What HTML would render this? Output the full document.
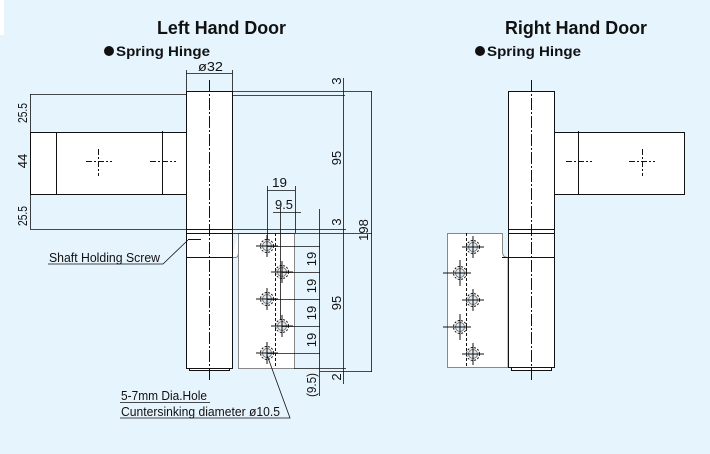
<!DOCTYPE html>
<html><head><meta charset="utf-8"><style>
html,body{margin:0;padding:0;background:#e6f4fd;}
svg{display:block;}
text{font-family:"Liberation Sans",Arial,sans-serif;fill:#111;}
</style></head><body>
<svg width="710" height="454" viewBox="0 0 710 454" xmlns="http://www.w3.org/2000/svg">
<rect width="710" height="454" fill="#e6f4fd"/>
<rect x="0" y="0" width="4" height="35" fill="#fff"/>
<g font-weight="bold">
<text x="157" y="34" font-size="18" textLength="129" lengthAdjust="spacingAndGlyphs">Left Hand Door</text>
<text x="505" y="34" font-size="18" textLength="142" lengthAdjust="spacingAndGlyphs">Right Hand Door</text>
<circle cx="109" cy="51" r="5" fill="#111"/>
<text x="116" y="56" font-size="14" textLength="94" lengthAdjust="spacingAndGlyphs">Spring Hinge</text>
<circle cx="480" cy="51" r="5" fill="#111"/>
<text x="487" y="56" font-size="14" textLength="94" lengthAdjust="spacingAndGlyphs">Spring Hinge</text>
</g>
<!-- ====== LEFT ====== -->
<g stroke="#111" stroke-width="1" fill="none">
<rect x="30.5" y="132.5" width="156" height="62" fill="#fff"/>
<line x1="56.5" y1="132" x2="56.5" y2="194"/>
<line x1="162.5" y1="131" x2="162.5" y2="194"/>
<path d="M238.5 368.5 V233.5 H294.5 V368.5 Z" fill="#fff" stroke="#888"/>
<path d="M232 257.5 H236 Q238.5 257 238.5 252 V233.5" fill="#fff" stroke="#888"/>
<rect x="186.5" y="91.5" width="46" height="277" fill="#fff"/>
<rect x="189.5" y="368.5" width="40" height="2" fill="#fff"/>
<line x1="186" y1="229.5" x2="232" y2="229.5"/>
<line x1="186" y1="233.5" x2="232" y2="233.5"/>
<line x1="186" y1="257.5" x2="232" y2="257.5"/>
<line x1="188" y1="239.5" x2="201" y2="239.5"/>
<line x1="209.5" y1="80" x2="209.5" y2="382" stroke-dasharray="12,2,2,2"/>
<g stroke-dasharray="6,2,2,2">
<line x1="86" y1="161.5" x2="112" y2="161.5"/><line x1="98.5" y1="149" x2="98.5" y2="176"/>
<line x1="150" y1="161.5" x2="176" y2="161.5"/>
</g>
<line x1="275.5" y1="233" x2="275.5" y2="368" stroke-dasharray="3,2"/>
</g>
<g stroke="#111" fill="none">
<g transform="translate(267,246)"><circle r="6.5" stroke-dasharray="2,1.5" fill="#fff"/><circle r="4.5" stroke="#777" fill="#dfeaf2"/><line x1="-11" y1="0" x2="11" y2="0"/><line x1="0" y1="-11" x2="0" y2="11"/></g>
<g transform="translate(282,272)"><circle r="6.5" stroke-dasharray="2,1.5" fill="#fff"/><circle r="4.5" stroke="#777" fill="#dfeaf2"/><line x1="-11" y1="0" x2="11" y2="0"/><line x1="0" y1="-11" x2="0" y2="11"/></g>
<g transform="translate(267,299)"><circle r="6.5" stroke-dasharray="2,1.5" fill="#fff"/><circle r="4.5" stroke="#777" fill="#dfeaf2"/><line x1="-11" y1="0" x2="11" y2="0"/><line x1="0" y1="-11" x2="0" y2="11"/></g>
<g transform="translate(282,326)"><circle r="6.5" stroke-dasharray="2,1.5" fill="#fff"/><circle r="4.5" stroke="#777" fill="#dfeaf2"/><line x1="-11" y1="0" x2="11" y2="0"/><line x1="0" y1="-11" x2="0" y2="11"/></g>
<g transform="translate(267,353)"><circle r="6.5" stroke-dasharray="2,1.5" fill="#fff"/><circle r="4.5" stroke="#777" fill="#dfeaf2"/><line x1="-11" y1="0" x2="11" y2="0"/><line x1="0" y1="-11" x2="0" y2="11"/></g>
</g>
<g stroke="#111" stroke-width="0.8" fill="none">
<line x1="30" y1="94.5" x2="186" y2="94.5"/>
<line x1="30" y1="229.5" x2="186" y2="229.5"/>
<line x1="30.5" y1="94" x2="30.5" y2="229"/>
<line x1="186.5" y1="73.5" x2="232.5" y2="73.5"/>
<line x1="186.5" y1="70" x2="186.5" y2="91"/><line x1="232.5" y1="70" x2="232.5" y2="91"/>
<line x1="232" y1="91.5" x2="372" y2="91.5"/>
<line x1="232" y1="95.5" x2="345" y2="95.5"/>
<line x1="232" y1="229.5" x2="346" y2="229.5"/>
<line x1="232" y1="233.5" x2="372" y2="233.5"/>
<line x1="294" y1="368.5" x2="346" y2="368.5"/>
<line x1="343.5" y1="78" x2="343.5" y2="384"/>
<line x1="371.5" y1="91" x2="371.5" y2="372"/>
<line x1="320" y1="371.5" x2="372" y2="371.5"/>
<line x1="267.5" y1="186" x2="267.5" y2="240"/>
<line x1="295.5" y1="186" x2="295.5" y2="233"/>
<line x1="267" y1="190.5" x2="295" y2="190.5"/>
<line x1="273" y1="212.5" x2="301" y2="212.5"/>
<line x1="280.5" y1="208" x2="280.5" y2="320"/>
<line x1="319.5" y1="209" x2="319.5" y2="396"/>
<line x1="267" y1="246.5" x2="320" y2="246.5"/>
<line x1="282" y1="272.5" x2="320" y2="272.5"/>
<line x1="267" y1="299.5" x2="320" y2="299.5"/>
<line x1="282" y1="326.5" x2="320" y2="326.5"/>
<line x1="267" y1="353.5" x2="320" y2="353.5"/>
<polyline points="188,240 163,264 48,264"/>
<polyline points="267,355 290,418 120,418"/>
<line x1="120" y1="402.5" x2="210" y2="402.5"/>
</g>
<g font-size="13">
<text x="198" y="71" textLength="25" lengthAdjust="spacingAndGlyphs">ø32</text>
<text x="49" y="262" textLength="111" lengthAdjust="spacingAndGlyphs">Shaft Holding Screw</text>
<text x="121" y="400" textLength="86" lengthAdjust="spacingAndGlyphs">5-7mm Dia.Hole</text>
<text x="121" y="416" textLength="159" lengthAdjust="spacingAndGlyphs">Cuntersinking diameter ø10.5</text>
<text x="272" y="187" textLength="15" lengthAdjust="spacingAndGlyphs">19</text>
<text x="275" y="209" textLength="18" lengthAdjust="spacingAndGlyphs">9.5</text>
<g text-anchor="middle">
<text transform="translate(27,113) rotate(-90)" textLength="20" lengthAdjust="spacingAndGlyphs">25.5</text>
<text transform="translate(27,161) rotate(-90)">44</text>
<text transform="translate(27,216) rotate(-90)" textLength="20" lengthAdjust="spacingAndGlyphs">25.5</text>
<text transform="translate(341,81) rotate(-90)">3</text>
<text transform="translate(341,158) rotate(-90)">95</text>
<text transform="translate(341,222) rotate(-90)">3</text>
<text transform="translate(368,230) rotate(-90)">198</text>
<text transform="translate(341,303) rotate(-90)">95</text>
<text transform="translate(341,377) rotate(-90)">2</text>
<text transform="translate(316,385) rotate(-90)" textLength="24" lengthAdjust="spacingAndGlyphs">(9.5)</text>
<text transform="translate(316,259) rotate(-90)">19</text>
<text transform="translate(316,286) rotate(-90)">19</text>
<text transform="translate(316,313) rotate(-90)">19</text>
<text transform="translate(316,340) rotate(-90)">19</text>
</g>
</g>
<!-- ====== RIGHT ====== -->
<g stroke="#111" stroke-width="1" fill="none">
<rect x="554.5" y="132.5" width="130" height="62" fill="#fff"/>
<line x1="578.5" y1="131" x2="578.5" y2="194"/>
<path d="M447.5 367.5 V233.5 H502.5 V252 Q502.5 257.5 508 257.5 V367.5 Z" fill="#fff" stroke="#888"/>
<rect x="508.5" y="91.5" width="46" height="276" fill="#fff"/>
<rect x="511.5" y="367.5" width="40" height="3" fill="#fff"/>
<line x1="508" y1="229.5" x2="554" y2="229.5"/>
<line x1="508" y1="233.5" x2="554" y2="233.5"/>
<line x1="502" y1="257.5" x2="554" y2="257.5"/>
<line x1="531.5" y1="80" x2="531.5" y2="382" stroke-dasharray="12,2,2,2"/>
<g stroke-dasharray="6,2,2,2">
<line x1="566" y1="161.5" x2="592" y2="161.5"/>
<line x1="629" y1="161.5" x2="655" y2="161.5"/><line x1="642.5" y1="149" x2="642.5" y2="176"/>
</g>
<line x1="466.5" y1="233" x2="466.5" y2="367" stroke-dasharray="3,2"/>
</g>
<g stroke="#111" fill="none">
<g transform="translate(473,247)"><circle r="6.5" stroke-dasharray="2,1.5" fill="#fff"/><circle r="4.5" stroke="#777" fill="#dfeaf2"/><line x1="-11" y1="0" x2="11" y2="0"/><line x1="0" y1="-11" x2="0" y2="11"/></g>
<g transform="translate(460,273)"><circle r="6.5" stroke-dasharray="2,1.5" fill="#fff"/><circle r="4.5" stroke="#777" fill="#dfeaf2"/><line x1="-17" y1="0" x2="11" y2="0"/><line x1="0" y1="-13" x2="0" y2="13"/></g>
<g transform="translate(473,300)"><circle r="6.5" stroke-dasharray="2,1.5" fill="#fff"/><circle r="4.5" stroke="#777" fill="#dfeaf2"/><line x1="-11" y1="0" x2="11" y2="0"/><line x1="0" y1="-11" x2="0" y2="11"/></g>
<g transform="translate(460,327)"><circle r="6.5" stroke-dasharray="2,1.5" fill="#fff"/><circle r="4.5" stroke="#777" fill="#dfeaf2"/><line x1="-17" y1="0" x2="11" y2="0"/><line x1="0" y1="-13" x2="0" y2="13"/></g>
<g transform="translate(473,354)"><circle r="6.5" stroke-dasharray="2,1.5" fill="#fff"/><circle r="4.5" stroke="#777" fill="#dfeaf2"/><line x1="-11" y1="0" x2="11" y2="0"/><line x1="0" y1="-11" x2="0" y2="11"/></g>
</g>
</svg>
</body></html>
